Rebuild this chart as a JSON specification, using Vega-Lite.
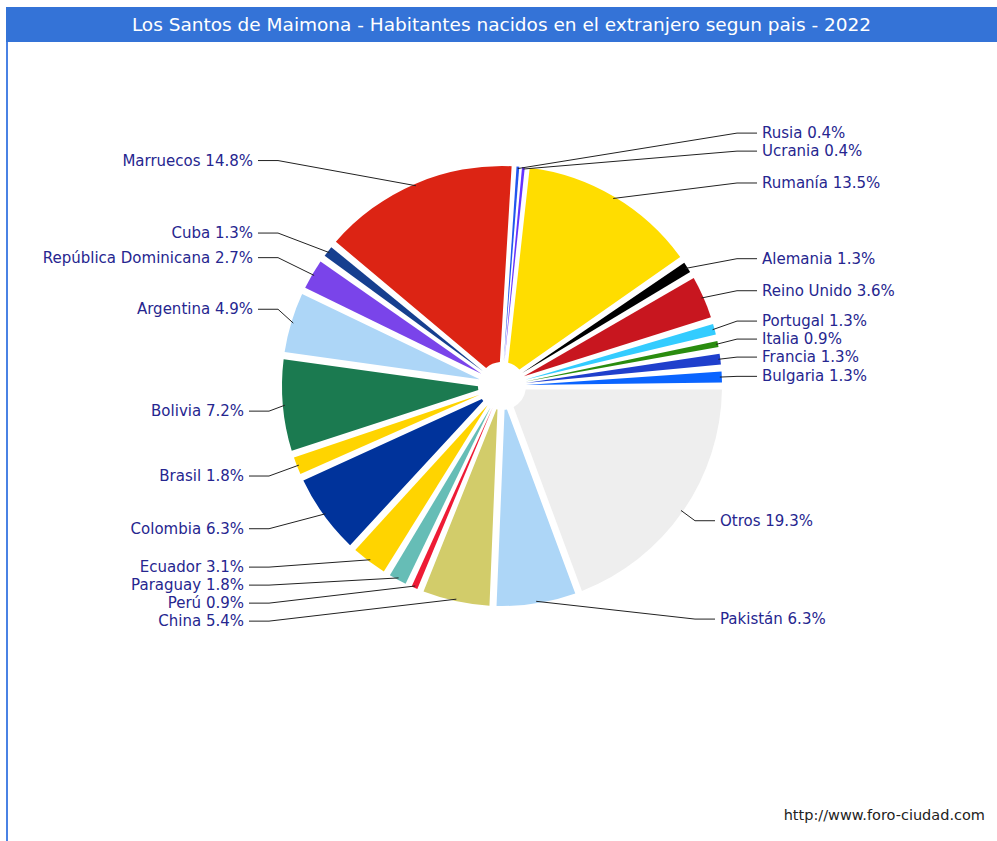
{
  "$schema": "https://vega.github.io/schema/vega-lite/v6.json",
  "padding": {"left": 6, "top": 7, "right": 0, "bottom": 0},
  "background": "white",
  "spacing": 0,
  "config": {"view": {"stroke": null}, "concat": {"spacing": 0}},
  "datasets": {
    "paises": [
      {"idx": 1, "pais": "Otros", "pct": 19.3},
      {"idx": 2, "pais": "Pakistán", "pct": 6.3},
      {"idx": 3, "pais": "China", "pct": 5.4},
      {"idx": 4, "pais": "Perú", "pct": 0.9},
      {"idx": 5, "pais": "Paraguay", "pct": 1.8},
      {"idx": 6, "pais": "Ecuador", "pct": 3.1},
      {"idx": 7, "pais": "Colombia", "pct": 6.3},
      {"idx": 8, "pais": "Brasil", "pct": 1.8},
      {"idx": 9, "pais": "Bolivia", "pct": 7.2},
      {"idx": 10, "pais": "Argentina", "pct": 4.9},
      {"idx": 11, "pais": "República Dominicana", "pct": 2.7},
      {"idx": 12, "pais": "Cuba", "pct": 1.3},
      {"idx": 13, "pais": "Marruecos", "pct": 14.8},
      {"idx": 14, "pais": "Rusia", "pct": 0.4},
      {"idx": 15, "pais": "Ucrania", "pct": 0.4},
      {"idx": 16, "pais": "Rumanía", "pct": 13.5},
      {"idx": 17, "pais": "Alemania", "pct": 1.3},
      {"idx": 18, "pais": "Reino Unido", "pct": 3.6},
      {"idx": 19, "pais": "Portugal", "pct": 1.3},
      {"idx": 20, "pais": "Italia", "pct": 0.9},
      {"idx": 21, "pais": "Francia", "pct": 1.3},
      {"idx": 22, "pais": "Bulgaria", "pct": 1.3}
    ]
  },
  "vconcat": [
    {
      "width": 991,
      "height": 35,
      "view": {"fill": "#3473d7", "stroke": null},
      "data": {"values": [{"t": "Los Santos de Maimona - Habitantes nacidos en el extranjero segun pais - 2022"}]},
      "mark": {"type": "text", "color": "white", "font": "DejaVu Sans", "fontSize": 18.5, "baseline": "middle"},
      "encoding": {"text": {"field": "t", "type": "nominal"}}
    },
    {
      "spacing": 0,
      "hconcat": [
        {
          "width": 2,
          "height": 799,
          "view": {"fill": "#4a82e4", "stroke": null},
          "data": {"values": [{"t": ""}]},
          "mark": {"type": "text", "opacity": 0},
          "encoding": {"text": {"field": "t", "type": "nominal"}}
        },
        {
          "width": 989,
          "height": 799,
          "data": {"name": "paises"},
          "title": {"text": "http://www.foro-ciudad.com", "orient": "bottom", "anchor": "end", "offset": -32, "dx": -12, "font": "DejaVu Sans", "fontSize": 14.5, "fontWeight": "normal", "color": "#222222"},
          "transform": [
            {"joinaggregate": [{"op": "sum", "field": "pct", "as": "tot"}]},
            {"stack": "pct", "groupby": [], "sort": [{"field": "idx", "order": "ascending"}], "as": ["s0", "s1"]},
            {"calculate": "datum.s0 / datum.tot", "as": "f0"},
            {"calculate": "datum.s1 / datum.tot", "as": "f1"},
            {"calculate": "PI / 2 + PI * (datum.f0 + datum.f1)", "as": "ang"},
            {"calculate": "sin(datum.ang)", "as": "sx"},
            {"calculate": "cos(datum.ang)", "as": "cy"},
            {"calculate": "datum.sx >= 0 ? 1 : -1", "as": "side"},
            {"calculate": "datum.side > 0 ? (datum.cy > 0 ? 1.1927 : 1.0) : (datum.cy > 0 ? -1.1422 : -1.1835)", "as": "colx"},
            {"calculate": "datum.cy * 1.0826 + (datum.side < 0 && datum.cy > 0 ? 0.0596 : 0) + (datum.side < 0 ? -0.02 : 0)", "as": "ly0"},
            {"window": [{"op": "lag", "field": "ly0", "as": "p0"}], "groupby": ["side"], "sort": [{"field": "ly0", "order": "ascending"}]},
            {"calculate": "isValid(datum.p0) ? max(datum.ly0, datum.p0 + 0.0826) : datum.ly0", "as": "y1"},
            {"window": [{"op": "lag", "field": "y1", "as": "p1"}], "groupby": ["side"], "sort": [{"field": "ly0", "order": "ascending"}]},
            {"calculate": "isValid(datum.p1) ? max(datum.ly0, datum.p1 + 0.0826) : datum.ly0", "as": "y2"},
            {"window": [{"op": "lag", "field": "y2", "as": "p2"}], "groupby": ["side"], "sort": [{"field": "ly0", "order": "ascending"}]},
            {"calculate": "isValid(datum.p2) ? max(datum.ly0, datum.p2 + 0.0826) : datum.ly0", "as": "ly"},
            {"calculate": "datum.colx - datum.side * 0.0229", "as": "hx2"},
            {"calculate": "datum.colx - datum.side * 0.1147", "as": "hx1"},
            {"calculate": "datum.pais + ' ' + format(datum.pct, '.1f') + '%'", "as": "lab"}
          ],
          "layer": [
            {
              "mark": {"type": "arc", "outerRadius": 220, "innerRadius": 24, "padAngle": {"expr": "min(0.032, 0.5 * 2 * PI * (datum.f1 - datum.f0))"}},
              "encoding": {
                "x": {"datum": 0, "type": "quantitative", "stack": null, "scale": {"domain": [-2.26606, 2.27064], "nice": false, "zero": false}, "axis": null},
                "y": {"datum": 0, "type": "quantitative", "stack": null, "scale": {"domain": [-2.08716, 1.57798], "nice": false, "zero": false}, "axis": null},
                "theta": {"field": "f0", "type": "quantitative", "scale": {"domain": [0, 1], "range": [1.5707963, 7.8539816], "zero": false, "nice": false}},
                "theta2": {"field": "f1"},
                "color": {
                  "field": "pais", "type": "nominal", "legend": null,
                  "scale": {
                    "domain": ["Otros", "Pakistán", "China", "Perú", "Paraguay", "Ecuador", "Colombia", "Brasil", "Bolivia", "Argentina", "República Dominicana", "Cuba", "Marruecos", "Rusia", "Ucrania", "Rumanía", "Alemania", "Reino Unido", "Portugal", "Italia", "Francia", "Bulgaria"],
                    "range": ["#eeeeee", "#add6f7", "#d2cc6a", "#ee1b35", "#66bdb6", "#ffd400", "#00339b", "#ffd400", "#1b7a50", "#add6f7", "#7a44ea", "#163f8f", "#dc2414", "#2255ee", "#6633ff", "#ffdd00", "#000000", "#c8161f", "#33ccff", "#2a8c0f", "#1f3fcc", "#0a64ff"]
                  }
                }
              }
            },
            {
              "mark": {"type": "rule", "color": "#222222", "strokeWidth": 1},
              "encoding": {
                "x": {"field": "hx1", "type": "quantitative", "scale": {"domain": [-2.26606, 2.27064], "nice": false, "zero": false}, "axis": null},
                "x2": {"field": "hx2"},
                "y": {"field": "ly", "type": "quantitative", "scale": {"domain": [-2.08716, 1.57798], "nice": false, "zero": false}, "axis": null},
                "y2": {"field": "ly"}
              }
            },
            {
              "mark": {"type": "rule", "color": "#222222", "strokeWidth": 1},
              "encoding": {
                "x": {"field": "sx", "type": "quantitative", "scale": {"domain": [-2.26606, 2.27064], "nice": false, "zero": false}, "axis": null},
                "x2": {"field": "hx1"},
                "y": {"field": "cy", "type": "quantitative", "scale": {"domain": [-2.08716, 1.57798], "nice": false, "zero": false}, "axis": null},
                "y2": {"field": "ly"}
              }
            },
            {
              "transform": [{"filter": "datum.side > 0"}],
              "mark": {"type": "text", "align": "left", "baseline": "middle", "font": "DejaVu Sans", "fontSize": 15, "color": "#26268f"},
              "encoding": {
                "x": {"field": "colx", "type": "quantitative", "scale": {"domain": [-2.26606, 2.27064], "nice": false, "zero": false}, "axis": null},
                "y": {"field": "ly", "type": "quantitative", "scale": {"domain": [-2.08716, 1.57798], "nice": false, "zero": false}, "axis": null},
                "text": {"field": "lab", "type": "nominal"}
              }
            },
            {
              "transform": [{"filter": "datum.side < 0"}],
              "mark": {"type": "text", "align": "right", "baseline": "middle", "font": "DejaVu Sans", "fontSize": 15, "color": "#26268f"},
              "encoding": {
                "x": {"field": "colx", "type": "quantitative", "scale": {"domain": [-2.26606, 2.27064], "nice": false, "zero": false}, "axis": null},
                "y": {"field": "ly", "type": "quantitative", "scale": {"domain": [-2.08716, 1.57798], "nice": false, "zero": false}, "axis": null},
                "text": {"field": "lab", "type": "nominal"}
              }
            }
          ]
        }
      ]
    }
  ]
}
